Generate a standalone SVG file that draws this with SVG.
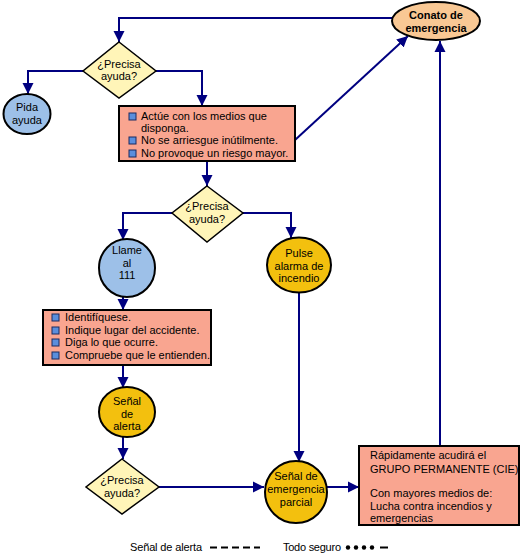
<svg xmlns="http://www.w3.org/2000/svg" width="521" height="554" viewBox="0 0 521 554">
<style>
text{font-family:"Liberation Sans",Arial,sans-serif;font-size:11px;fill:#000}
.c{text-anchor:middle}
.b{font-weight:bold}
.ln{fill:none;stroke:#000080;stroke-width:2}
.dia{fill:#FFF5B8;stroke:#000;stroke-width:1.5}
.box{fill:#F9A590;stroke:#000;stroke-width:2}
.blue{fill:#9DC0E8;stroke:#000;stroke-width:2}
.gold{fill:#F3C00E;stroke:#000;stroke-width:2}
.bul{fill:#5A8EDC;stroke:#1a2a60;stroke-width:1}
</style>
<defs>
<marker id="ah" markerWidth="12" markerHeight="12" refX="11" refY="6" orient="auto" markerUnits="userSpaceOnUse">
<path d="M0,0.5 L11,6 L0,11.5 Z" fill="#000080"/>
</marker>
</defs>
<rect width="521" height="554" fill="#fff"/>
<g id="connectors">
<path class="ln" d="M392,18 H119 V42" marker-end="url(#ah)"/>
<path class="ln" d="M83,71 H28 V94" marker-end="url(#ah)"/>
<path class="ln" d="M156,71 H202 V106" marker-end="url(#ah)"/>
<path class="ln" d="M295,140 L408,36" marker-end="url(#ah)"/>
<path class="ln" d="M207,161 V186" marker-end="url(#ah)"/>
<path class="ln" d="M172,213 H123 V240" marker-end="url(#ah)"/>
<path class="ln" d="M243,213 H291 V238" marker-end="url(#ah)"/>
<path class="ln" d="M123,297 V310" marker-end="url(#ah)"/>
<path class="ln" d="M123,365 V388" marker-end="url(#ah)"/>
<path class="ln" d="M123,437 V459" marker-end="url(#ah)"/>
<path class="ln" d="M159,487 H264" marker-end="url(#ah)"/>
<path class="ln" d="M299,293 V462" marker-end="url(#ah)"/>
<path class="ln" d="M327,487 H359" marker-end="url(#ah)"/>
<path class="ln" d="M440,446 V41" marker-end="url(#ah)"/>
</g>
<g id="conato">
<ellipse cx="436" cy="21" rx="44" ry="19" fill="#F9C894" stroke="#000" stroke-width="2"/>
<text class="c b" x="436" y="19">Conato de</text>
<text class="c b" x="436" y="32">emergencia</text>
</g>
<g id="precisa1">
<path class="dia" d="M119,42 L156,71 L119,98 L83,71 Z"/>
<text class="c" x="119" y="68">¿Precisa</text>
<text class="c" x="119" y="80">ayuda?</text>
</g>
<g id="pida">
<ellipse class="blue" cx="27" cy="114" rx="23.5" ry="20"/>
<text class="c" x="27" y="111">Pida</text>
<text class="c" x="27" y="124">ayuda</text>
</g>
<g id="actue">
<rect class="box" x="119" y="106" width="176" height="55"/>
<rect class="bul" x="129" y="113" width="7" height="7"/>
<rect class="bul" x="129" y="137" width="7" height="7"/>
<rect class="bul" x="129" y="150" width="7" height="7"/>
<text x="141" y="120">Actúe con los medios que</text>
<text x="141" y="132">disponga.</text>
<text x="141" y="144">No se arriesgue inútilmente.</text>
<text x="141" y="157">No provoque un riesgo mayor.</text>
</g>
<g id="precisa2">
<path class="dia" d="M207,186 L243,213 L207,242 L172,213 Z"/>
<text class="c" x="207" y="210">¿Precisa</text>
<text class="c" x="207" y="223">ayuda?</text>
</g>
<g id="llame">
<ellipse class="blue" cx="127" cy="268" rx="28" ry="29"/>
<text class="c" x="127" y="254">Llame</text>
<text class="c" x="127" y="267">al</text>
<text class="c" x="127" y="279">111</text>
</g>
<g id="pulse">
<ellipse class="gold" cx="299" cy="265" rx="32" ry="27.5"/>
<text class="c" x="299" y="257">Pulse</text>
<text class="c" x="299" y="270">alarma de</text>
<text class="c" x="299" y="282">incendio</text>
</g>
<g id="identifiquese">
<rect class="box" x="43" y="310" width="168" height="55"/>
<rect class="bul" x="52" y="314" width="7" height="7"/>
<rect class="bul" x="52" y="327" width="7" height="7"/>
<rect class="bul" x="52" y="339" width="7" height="7"/>
<rect class="bul" x="52" y="352" width="7" height="7"/>
<text x="65" y="321">Identifíquese.</text>
<text x="65" y="334">Indique lugar del accidente.</text>
<text x="65" y="346">Diga lo que ocurre.</text>
<text x="65" y="359">Compruebe que le entienden.</text>
</g>
<g id="alerta">
<ellipse class="gold" cx="127" cy="412" rx="28" ry="25"/>
<text class="c" x="127" y="405">Señal</text>
<text class="c" x="127" y="418">de</text>
<text class="c" x="127" y="430">alerta</text>
</g>
<g id="precisa3">
<path class="dia" d="M122,459 L159,487 L122,514 L86,487 Z"/>
<text class="c" x="122" y="484">¿Precisa</text>
<text class="c" x="122" y="497">ayuda?</text>
</g>
<g id="parcial">
<ellipse class="gold" cx="296" cy="492" rx="31" ry="31"/>
<text class="c" x="296" y="480">Señal de</text>
<text class="c" x="296" y="493">emergencia</text>
<text class="c" x="296" y="506">parcial</text>
</g>
<g id="grupo">
<rect class="box" x="359" y="446" width="160" height="79"/>
<text x="370" y="459">Rápidamente acudirá el</text>
<text x="370" y="473">GRUPO PERMANENTE (CIE)</text>
<text x="370" y="497">Con mayores medios de:</text>
<text x="370" y="510">Lucha contra incendios y</text>
<text x="370" y="522">emergencias</text>
</g>
<g id="legend">
<text x="130" y="551" textLength="72">Señal de alerta</text>
<path d="M210,547.5 H260" stroke="#000" stroke-width="2" stroke-dasharray="7,4"/>
<text x="283" y="551" textLength="58">Todo seguro</text>
<circle cx="348" cy="547.5" r="2.2" fill="#000"/>
<circle cx="356" cy="547.5" r="2.2" fill="#000"/>
<circle cx="364" cy="547.5" r="2.2" fill="#000"/>
<circle cx="372" cy="547.5" r="2.2" fill="#000"/>
<path d="M380,547.5 H388" stroke="#000" stroke-width="2"/>
</g>
</svg>
